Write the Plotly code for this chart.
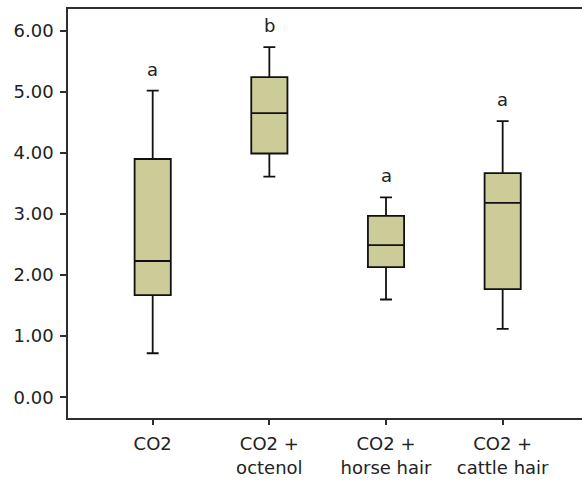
import plotly.graph_objects as go

# Treatment groups and their box-plot summary statistics
groups = ["CO2", "CO2 +<br>octenol", "CO2 +<br>horse hair", "CO2 +<br>cattle hair"]
lower_whisker = [0.72, 3.61, 1.60, 1.12]
q1 = [1.67, 3.99, 2.13, 1.77]
median = [2.23, 4.65, 2.49, 3.18]
q3 = [3.90, 5.24, 2.97, 3.67]
upper_whisker = [5.02, 5.73, 3.27, 4.52]
sig_letters = ["a", "b", "a", "a"]
y_ticks = [0, 1, 2, 3, 4, 5, 6]

FONT = "DejaVu Sans"
TEXT = "#222222"
AXIS = "#2e2e2e"

fig = go.Figure()
fig.add_trace(go.Box(
    x=groups,
    q1=q1,
    median=median,
    q3=q3,
    lowerfence=lower_whisker,
    upperfence=upper_whisker,
    fillcolor="#cccc99",
    line=dict(color="#111111", width=1.8),
    width=0.31,
    whiskerwidth=0.33,
    boxpoints=False,
    hoverinfo="skip",
    showlegend=False,
))

# Significance letters above each upper whisker
for g, top, lab in zip(groups, upper_whisker, sig_letters):
    fig.add_annotation(
        x=g, y=top, text=lab, showarrow=False,
        yanchor="bottom", yshift=9,
        font=dict(family=FONT, size=18, color=TEXT),
    )

fig.update_layout(
    width=582, height=484,
    margin=dict(l=68, r=0, t=9, b=66),
    paper_bgcolor="white",
    plot_bgcolor="white",
    font=dict(family=FONT, size=18, color=TEXT),
)
fig.update_xaxes(
    type="category",
    range=[-0.726, 3.68],
    showline=True, linecolor=AXIS, linewidth=1.6, mirror=True,
    ticks="outside", ticklen=5, tickcolor=AXIS, tickwidth=1.5,
    ticklabelstandoff=4,
    showgrid=False, zeroline=False,
    tickfont=dict(family=FONT, size=18, color=TEXT),
)
fig.update_yaxes(
    range=[-0.34, 6.355],
    tickvals=y_ticks,
    tickformat=".2f",
    showline=True, linecolor=AXIS, linewidth=1.6,
    ticks="outside", ticklen=6, tickcolor=AXIS, tickwidth=1.5,
    ticklabelstandoff=3,
    showgrid=False, zeroline=False,
    tickfont=dict(family=FONT, size=18, color=TEXT),
)

fig.write_html("out.html")
